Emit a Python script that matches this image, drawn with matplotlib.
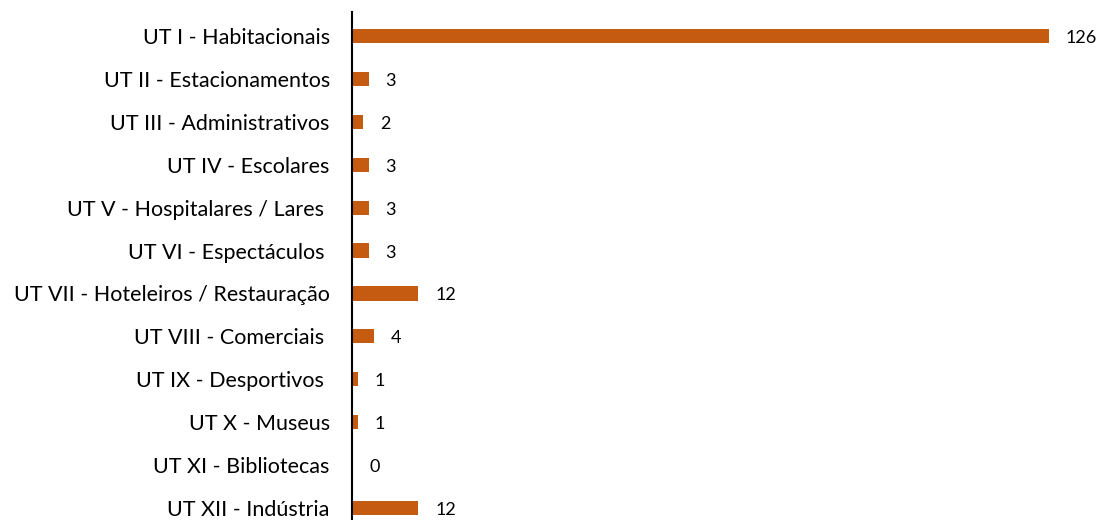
import matplotlib.pyplot as plt

categories = [
    'UT I - Habitacionais',
    'UT II - Estacionamentos',
    'UT III - Administrativos',
    'UT IV - Escolares',
    'UT V - Hospitalares / Lares ',
    'UT VI - Espectáculos ',
    'UT VII - Hoteleiros / Restauração',
    'UT VIII - Comerciais ',
    'UT IX - Desportivos ',
    'UT X - Museus',
    'UT XI - Bibliotecas',
    'UT XII - Indústria',
]
values = [126, 3, 2, 3, 3, 3, 12, 4, 1, 1, 0, 12]

plt.rcParams['font.family'] = ['Lato', 'DejaVu Sans']

fig = plt.figure(figsize=(11, 5.2), dpi=100)
ax = fig.add_axes([352 / 1100, 0, 697 / 1100, 508 / 520])

pos = list(range(len(categories)))
ax.barh(pos, values, height=0.33, color='#C55A11')
ax.set_xlim(0, 126)
ax.set_ylim(11.28, -0.56)

ax.set_yticks(pos)
ax.set_yticklabels(categories, fontsize=15.5)
ax.tick_params(axis='y', length=0, pad=16)
ax.set_xticks([])

for s in ['top', 'right', 'bottom']:
    ax.spines[s].set_visible(False)
ax.spines['left'].set_linewidth(1.5)
ax.spines['left'].set_color('black')

# value labels after each bar
for p, v in zip(pos, values):
    ax.annotate(str(v), (v, p), xytext=(17, -2), textcoords='offset pixels',
                va='center', ha='left', fontsize=13, annotation_clip=False)

fig.savefig('out.png')
